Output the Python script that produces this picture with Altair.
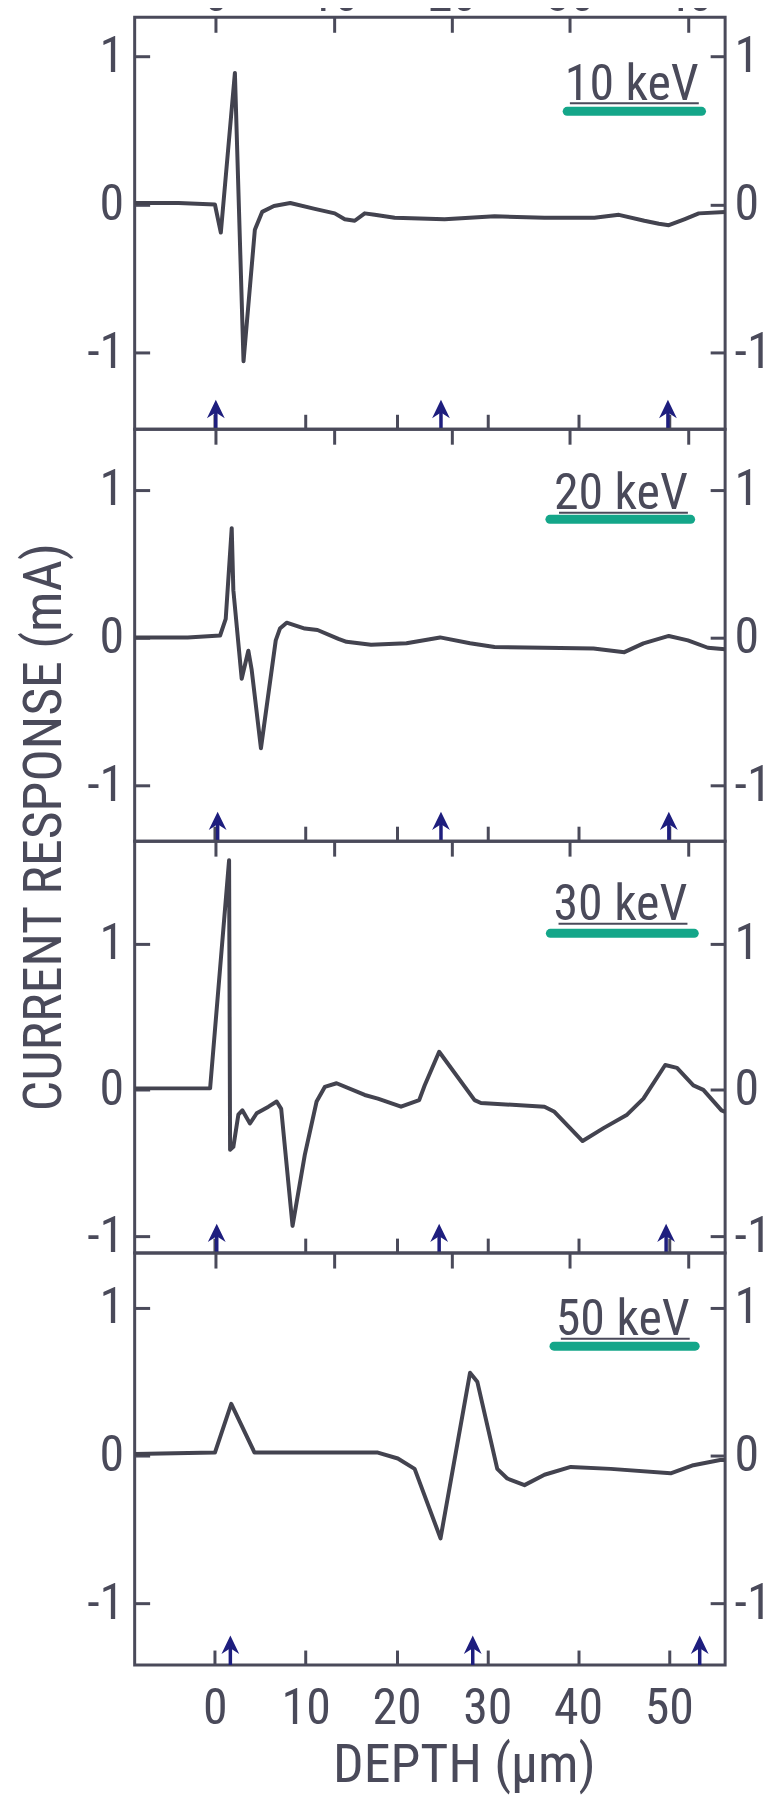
import altair as alt
import pandas as pd

# ---------------- data ----------------
DEPTH_10 = [-8.84, -4.0, 0.0, 0.65, 2.2, 3.15, 4.4, 5.2, 6.5, 8.3, 11.0, 13.2, 14.3, 15.4, 16.5, 17.6,
            19.8, 25.3, 30.8, 36.3, 41.8, 44.5, 47.3, 48.9, 50.0, 51.7, 53.3, 56.2]
RESP_10 = [0.01, 0.01, 0.0, -0.19, 0.89, -1.06, -0.17, -0.05, -0.01, 0.01, -0.03, -0.06, -0.10, -0.11, -0.06, -0.07,
           -0.09, -0.10, -0.08, -0.09, -0.09, -0.07, -0.11, -0.13, -0.14, -0.10, -0.06, -0.05]

DEPTH_20 = [-8.84, -3.0, 0.57, 1.19, 1.85, 2.03, 2.95, 3.68, 4.05, 5.07, 6.7, 7.16, 7.9, 9.9, 11.3, 13.6,
            14.5, 17.2, 21.1, 24.8, 28.1, 30.8, 36.2, 41.7, 45.1, 47.2, 50.0, 52.1, 54.3, 56.2]
RESP_20 = [0.0, 0.0, 0.013, 0.125, 0.74, 0.32, -0.28, -0.09, -0.22, -0.75, -0.02, 0.06, 0.10, 0.06, 0.05, -0.01,
           -0.03, -0.05, -0.04, 0.0, -0.04, -0.065, -0.07, -0.075, -0.10, -0.04, 0.01, -0.02, -0.07, -0.08]

DEPTH_30 = [-8.84, -3.0, -0.53, 1.56, 1.67, 2.03, 2.58, 3.02, 3.86, 4.6, 5.9, 6.8, 7.3, 8.55, 9.9, 11.2,
            12.1, 13.4, 16.5, 17.95, 20.5, 22.5, 23.1, 24.7, 28.6, 29.3, 36.3, 37.4, 40.5, 42.85, 45.4, 47.2,
            49.6, 50.9, 52.7, 53.8, 55.8, 56.2]
RESP_30 = [0.01, 0.01, 0.01, 1.57, -0.41, -0.39, -0.17, -0.14, -0.23, -0.16, -0.115, -0.08, -0.13, -0.93, -0.445, -0.08,
           0.02, 0.045, -0.035, -0.06, -0.115, -0.07, 0.03, 0.26, -0.07, -0.09, -0.115, -0.15, -0.35, -0.26, -0.17, -0.06,
           0.17, 0.15, 0.03, 0.0, -0.14, -0.15]

DEPTH_50 = [-8.84, 0.0, 1.8, 4.36, 9.3, 14.7, 17.95, 20.15, 22.0, 24.85, 28.1, 28.9, 31.1, 32.2, 34.1, 36.3,
            39.2, 43.6, 50.2, 52.7, 55.65, 56.2]
RESP_50 = [0.01, 0.02, 0.35, 0.02, 0.02, 0.02, 0.02, -0.02, -0.09, -0.56, 0.56, 0.50, -0.09, -0.155, -0.20, -0.13,
           -0.077, -0.09, -0.12, -0.065, -0.03, -0.03]

ARROWS_10 = [0.1, 24.9, 49.9]
ARROWS_20 = [0.3, 24.9, 50.0]
ARROWS_30 = [0.2, 24.7, 49.7]
ARROWS_50 = [1.7, 28.4, 53.4]

LABELS = ["10 keV", "20 keV", "30 keV", "50 keV"]
X_TICKS = [0, 10, 20, 30, 40, 50]
TOP_TICKS = [0, 10, 20, 30, 40]
Y_TICKS = [-1, 0, 1]
Y_TITLE = "CURRENT  RESPONSE  (mA)"
X_TITLE = "DEPTH  (\u03bcm)"

# ---------------- layout / style ----------------
FONT = "'Roboto Condensed', 'Liberation Sans Narrow', 'Arial Narrow', 'Liberation Sans', sans-serif"
INK = "#4a4a5a"
LINE = "#43434f"
NAVY = "#1e1e7e"
GREEN = "#14a689"
W, H = 592, 413
X_DOMAIN = [-8.84, 56.2]
TOP_DOMAIN = [-6.88, 43.16]
Y_DOMAINS = [[-1.52, 1.266], [-1.38, 1.41], [-1.116, 1.70], [-1.417, 1.37]]
# label (right edge x, baseline y) and green bar (x1, x2, y) per panel, in data units
LABEL_POS = [(53.3, 0.71), (52.1, 0.87), (52.05, 1.16), (52.3, 0.815)]
BAR_POS = [(38.8, 53.6, 0.63), (36.9, 52.4, 0.80), (36.95, 52.8, 1.07), (37.35, 52.9, 0.74)]
ARROW_PATH = "M0,-1L0.85,0.75L0,0.2L-0.85,0.75Z"

AX = dict(offset=-15, tickSize=15, domain=False, grid=False, tickColor=INK, tickWidth=3,
          labelFont=FONT, labelFontSize=50, labelColor=INK, labelOverlap=False)


def panel(i, depth, resp, arrows, first=False, last=False, ytitle=False):
    ydom = Y_DOMAINS[i]
    xs = alt.Scale(domain=X_DOMAIN, nice=False, zero=False)
    ys = alt.Scale(domain=ydom, nice=False, zero=False)
    xkw = dict(AX, values=X_TICKS, labels=last, labelPadding=59, labelBaseline="alphabetic")
    if last:
        xkw.update(title=X_TITLE, titleFont=FONT, titleFontSize=54, titleFontWeight="normal",
                   titleColor=INK, titleX=330, titleY=132, titleAlign="center",
                   titleBaseline="alphabetic")
    else:
        xkw.update(title=None)
    X = alt.X("depth:Q", scale=xs, axis=alt.Axis(**xkw))
    Y = alt.Y("resp:Q", scale=ys, axis=alt.Axis(**AX, values=Y_TICKS, labelPadding=11,
                                                  labelExpr="toString(datum.value)", title=None))

    df = pd.DataFrame({"depth": depth, "resp": resp})
    line = alt.Chart(df).mark_line(color=LINE, strokeWidth=4, strokeJoin="round", clip=True).encode(x=X, y=Y)

    lx, ly = LABEL_POS[i]
    tdf = pd.DataFrame({"depth": [lx], "resp": [ly], "t": [LABELS[i]]})
    txt = alt.Chart(tdf).mark_text(align="right", baseline="alphabetic", font=FONT, fontSize=50,
                                   color=INK).encode(x=X, y=Y, text="t:N")
    udf = pd.DataFrame({"depth": [lx - 14.2], "depth2": [lx], "resp": [ly - 0.025]})
    under = alt.Chart(udf).mark_rule(color=INK, strokeWidth=2).encode(x=X, x2="depth2:Q", y=Y)

    b1, b2, by = BAR_POS[i]
    bdf = pd.DataFrame({"depth": [b1], "depth2": [b2], "resp": [by]})
    bar = alt.Chart(bdf).mark_rule(color=GREEN, strokeWidth=9, strokeCap="round").encode(
        x=X, x2="depth2:Q", y=Y)

    adf = pd.DataFrame({"depth": arrows})
    stems = alt.Chart(adf).mark_rule(color=NAVY, strokeWidth=3.5).encode(
        x=X, y=alt.value(H - 24), y2=alt.value(H))
    heads = alt.Chart(adf).mark_point(shape=ARROW_PATH, filled=True, size=440, color=NAVY,
                                      opacity=1).encode(x=X, y=alt.value(H - 19))

    layers = [line, txt, under, bar, stems, heads]
    if ytitle:
        ydf = pd.DataFrame({"t": [Y_TITLE]})
        layers.append(alt.Chart(ydf).mark_text(angle=270, align="center", baseline="alphabetic",
                                                font=FONT, fontSize=54, color=INK).encode(
            x=alt.value(-74), y=alt.value(399), text="t:N"))
    inner = alt.layer(*layers)

    rdf = pd.DataFrame({"resp": Y_TICKS})
    right = alt.Chart(rdf).mark_point(opacity=0).encode(
        y=alt.Y("resp:Q", scale=alt.Scale(domain=ydom, nice=False, zero=False),
                axis=alt.Axis(**AX, orient="right", values=Y_TICKS, labelPadding=9,
                              labelExpr="toString(datum.value)", title=None)))

    topdf = pd.DataFrame({"top": TOP_TICKS})
    top = alt.Chart(topdf).mark_point(opacity=0).encode(
        x=alt.X("top:Q", scale=alt.Scale(domain=TOP_DOMAIN, nice=False, zero=False),
                axis=alt.Axis(**AX, orient="top", values=TOP_TICKS, labels=first,
                              labelPadding=7, labelBaseline="alphabetic", title=None)))

    return alt.layer(inner, right, top).resolve_scale(x="independent", y="independent").properties(
        width=W, height=H)


p1 = panel(0, DEPTH_10, RESP_10, ARROWS_10, first=True)
p2 = panel(1, DEPTH_20, RESP_20, ARROWS_20, ytitle=True)
p3 = panel(2, DEPTH_30, RESP_30, ARROWS_30)
p4 = panel(3, DEPTH_50, RESP_50, ARROWS_50, last=True)

chart = alt.vconcat(p1, p2, p3, p4, spacing=0, bounds="flush").properties(
    padding={"left": 8, "top": -42, "right": 0, "bottom": 0},
    background="white",
).configure_view(stroke=INK, strokeWidth=3)

chart.save("out.html", embed_options={"renderer": "svg", "actions": False})
